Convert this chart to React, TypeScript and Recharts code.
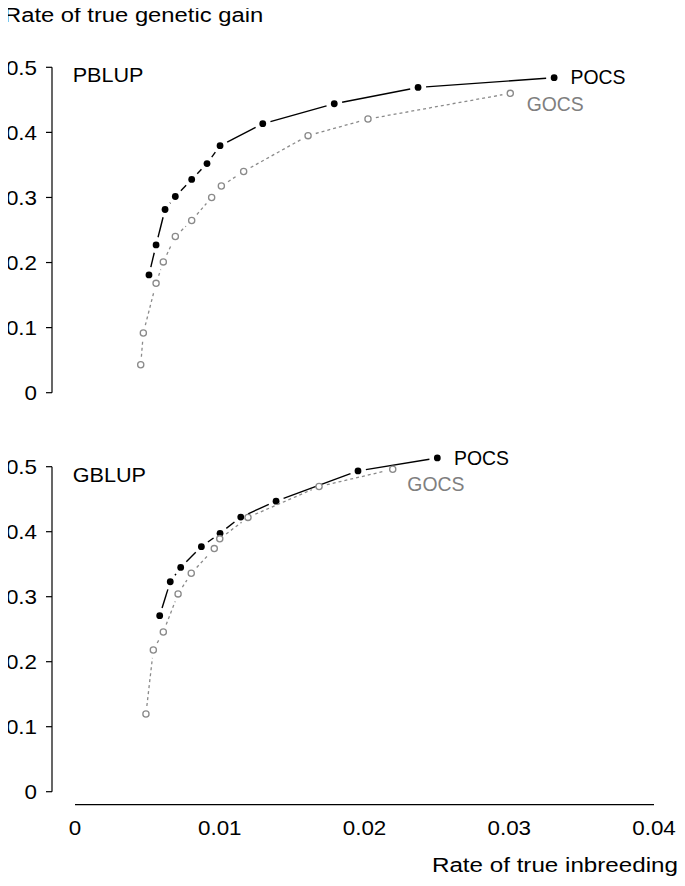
import React from 'react';
import { LineChart, Line, XAxis, YAxis, ReferenceLine } from 'recharts';

// ---- data ----
const xTicks = [0, 0.01, 0.02, 0.03, 0.04];
const yTicks = [0, 0.1, 0.2, 0.3, 0.4, 0.5];

const pblupPocsX = [0.00511, 0.0056, 0.00622, 0.00693, 0.00806, 0.00912, 0.01002, 0.01297, 0.01791, 0.0237, 0.0331];
const pblupPocsY = [0.181, 0.227, 0.2815, 0.3015, 0.3277, 0.352, 0.3795, 0.4133, 0.444, 0.469, 0.484];
const pblupGocsX = [0.00454, 0.00472, 0.0056, 0.0061, 0.00693, 0.00806, 0.00944, 0.01011, 0.01165, 0.0161, 0.02024, 0.03007];
const pblupGocsY = [0.043, 0.0918, 0.168, 0.201, 0.24, 0.2646, 0.3, 0.3175, 0.34, 0.395, 0.4205, 0.46];

const gblupPocsX = [0.00585, 0.00658, 0.0073, 0.00873, 0.01002, 0.01145, 0.01389, 0.01955, 0.02503];
const gblupPocsY = [0.2708, 0.323, 0.345, 0.377, 0.3975, 0.4225, 0.447, 0.4935, 0.5135];
const gblupGocsX = [0.0049, 0.00541, 0.0061, 0.00712, 0.00803, 0.00962, 0.01, 0.01195, 0.01686, 0.02195];
const gblupGocsY = [0.1196, 0.218, 0.2456, 0.3043, 0.336, 0.374, 0.389, 0.422, 0.4695, 0.496];

const yTickLabels = ['0', '0.1', '0.2', '0.3', '0.4', '0.5'];
const xTickLabels = ['0', '0.01', '0.02', '0.03', '0.04'];

const yTitle = 'Rate of true genetic gain';
const xTitle = 'Rate of true inbreeding';
const panelTop = 'PBLUP';
const panelBottom = 'GBLUP';

const toPts = (xs: number[], ys: number[]) => xs.map((x, i) => ({ x, y: ys[i] }));

// ---- style ----
const FONT = '"Liberation Sans", Arial, Helvetica, sans-serif';
const FS = 20;
const SX_TICK = 1.12;
const SX_TITLE_Y = 1.19;
const SX_TITLE_X = 1.21;
const SX_PANEL = 1.08;
const SX_SERIES = 0.97;
const X_MIN = -0.00159;
const X_MAX = 0.04;
const GAP = 8;

type SeriesStyle = {
  filled: boolean;
  color: string;
  dash?: string;
  width: number;
  label: string;
  labelColor: string;
  labelDx: number;
  labelDy: number;
};

const makeDot = (s: SeriesStyle, n: number) => (props: any) => {
  const { cx, cy, index, points } = props;
  const items: React.ReactNode[] = [];
  const next = points && points[index + 1];
  if (next && cx != null && cy != null) {
    const dx = next.x - cx;
    const dy = next.y - cy;
    const d = Math.hypot(dx, dy);
    if (d > 2 * GAP) {
      items.push(
        <line
          key="seg"
          x1={cx + (dx / d) * GAP}
          y1={cy + (dy / d) * GAP}
          x2={next.x - (dx / d) * GAP}
          y2={next.y - (dy / d) * GAP}
          stroke={s.color}
          strokeWidth={s.width}
          strokeDasharray={s.dash}
        />
      );
    }
  }
  items.push(
    s.filled ? (
      <circle key="c" cx={cx} cy={cy} r={3.4} fill={s.color} stroke="none" />
    ) : (
      <circle key="c" cx={cx} cy={cy} r={3.1} fill="#fff" stroke={s.color} strokeWidth={1.3} />
    )
  );
  if (index === n - 1) {
    items.push(
      <g key="lab" transform={`translate(${cx + s.labelDx},${cy + s.labelDy})`}>
        <text transform={`scale(${SX_SERIES},1)`} x={0} y={0} fontSize={FS} fontFamily={FONT} fill={s.labelColor}>
          {s.label}
        </text>
      </g>
    );
  }
  return <g key={`dot-${index}`}>{items}</g>;
};

const labelFor = (ticks: number[], labels: string[], v: number) => {
  const i = ticks.findIndex((t) => Math.abs(t - v) < 1e-9);
  return i >= 0 ? labels[i] : String(v);
};

const YTick = (props: any) => {
  const { x, y, payload } = props;
  return (
    <g transform={`translate(${x},${y})`}>
      <text transform={`scale(${SX_TICK},1)`} x={0} y={7.5} textAnchor="end" fontSize={FS} fontFamily={FONT} fill="#000">
        {labelFor(yTicks, yTickLabels, payload.value)}
      </text>
    </g>
  );
};

const XTick = (props: any) => {
  const { x, y, payload } = props;
  return (
    <g transform={`translate(${x},${y})`}>
      <text transform={`scale(${SX_TICK},1)`} x={0} y={43.3} textAnchor="middle" fontSize={FS} fontFamily={FONT} fill="#000">
        {labelFor(xTicks, xTickLabels, payload.value)}
      </text>
    </g>
  );
};

const pocsStyle = (dx: number, dy: number): SeriesStyle => ({
  filled: true,
  color: '#000',
  width: 1.4,
  label: 'POCS',
  labelColor: '#000',
  labelDx: dx,
  labelDy: dy,
});
const gocsStyle = (dx: number, dy: number): SeriesStyle => ({
  filled: false,
  color: '#8a8a8a',
  dash: '3 3',
  width: 1.3,
  label: 'GOCS',
  labelColor: '#7f7f7f',
  labelDx: dx,
  labelDy: dy,
});

const topPocs = toPts(pblupPocsX, pblupPocsY);
const topGocs = toPts(pblupGocsX, pblupGocsY);
const botPocs = toPts(gblupPocsX, gblupPocsY);
const botGocs = toPts(gblupGocsX, gblupGocsY);

export default function App() {
  const W = 685;
  const H = 886;
  const topStyleP = pocsStyle(16.4, 6.7);
  const topStyleG = gocsStyle(16.4, 17.7);
  const botStyleP = pocsStyle(16.7, 7);
  const botStyleG = gocsStyle(14.6, 21.3);
  return (
    <div style={{ position: 'relative', width: W, height: H, margin: '-8px 0 0 -8px', background: '#fff' }}>
      {/* Top panel: PBLUP */}
      <div style={{ position: 'absolute', left: 0, top: 0 }}>
        <LineChart width={W} height={H} margin={{ top: 67.3, right: 31, bottom: 493.3, left: 0 }}>
          <XAxis dataKey="x" type="number" domain={[X_MIN, X_MAX]} hide />
          <YAxis
            type="number"
            domain={[0, 0.5]}
            ticks={yTicks}
            width={52}
            tickSize={6}
            tickMargin={9}
            tick={<YTick />}
            axisLine={{ stroke: '#000', strokeWidth: 1.2 }}
            tickLine={{ stroke: '#000', strokeWidth: 1.2 }}
          />
          <Line
            data={topPocs}
            dataKey="y"
            stroke="none"
            isAnimationActive={false}
            dot={makeDot(topStyleP, topPocs.length)}
            activeDot={false}
          />
          <Line
            data={topGocs}
            dataKey="y"
            stroke="none"
            isAnimationActive={false}
            dot={makeDot(topStyleG, topGocs.length)}
            activeDot={false}
          />
        </LineChart>
      </div>
      {/* Bottom panel: GBLUP */}
      <div style={{ position: 'absolute', left: 0, top: 0 }}>
        <LineChart width={W} height={H} margin={{ top: 434.2, right: 31, bottom: 64.3, left: 0 }}>
          <XAxis
            dataKey="x"
            type="number"
            domain={[X_MIN, X_MAX]}
            ticks={xTicks}
            height={30}
            axisLine={false}
            tickLine={false}
            tickSize={0}
            tickMargin={0}
            tick={<XTick />}
          />
          <YAxis
            type="number"
            domain={[0, 0.55]}
            ticks={yTicks}
            width={52}
            tickSize={6}
            tickMargin={9}
            tick={<YTick />}
            axisLine={false}
            tickLine={{ stroke: '#000', strokeWidth: 1.2 }}
          />
          <ReferenceLine
            segment={[{ x: X_MIN, y: 0 }, { x: X_MIN, y: 0.5 }]}
            stroke="#000"
            strokeWidth={1.2}
            ifOverflow="visible"
          />
          <ReferenceLine
            segment={[{ x: 0, y: -0.02 }, { x: X_MAX, y: -0.02 }]}
            stroke="#000"
            strokeWidth={1.2}
            ifOverflow="visible"
          />
          <Line
            data={botPocs}
            dataKey="y"
            stroke="none"
            isAnimationActive={false}
            dot={makeDot(botStyleP, botPocs.length)}
            activeDot={false}
          />
          <Line
            data={botGocs}
            dataKey="y"
            stroke="none"
            isAnimationActive={false}
            dot={makeDot(botStyleG, botGocs.length)}
            activeDot={false}
          />
        </LineChart>
      </div>
      {/* Titles and panel names */}
      <svg width={W} height={H} style={{ position: 'absolute', left: 0, top: 0, pointerEvents: 'none' }}>
        <g transform="translate(4,21.7)">
          <text transform={`scale(${SX_TITLE_Y},1)`} fontSize={FS} fontFamily={FONT} fill="#000">{yTitle}</text>
        </g>
        <g transform="translate(678,872)">
          <text transform={`scale(${SX_TITLE_X},1)`} textAnchor="end" fontSize={FS} fontFamily={FONT} fill="#000">{xTitle}</text>
        </g>
        <g transform="translate(72.7,81.7)">
          <text transform={`scale(${SX_PANEL},1)`} fontSize={FS} fontFamily={FONT} fill="#000">{panelTop}</text>
        </g>
        <g transform="translate(72.7,481.5)">
          <text transform={`scale(${SX_PANEL},1)`} fontSize={FS} fontFamily={FONT} fill="#000">{panelBottom}</text>
        </g>
      </svg>
    </div>
  );
}
